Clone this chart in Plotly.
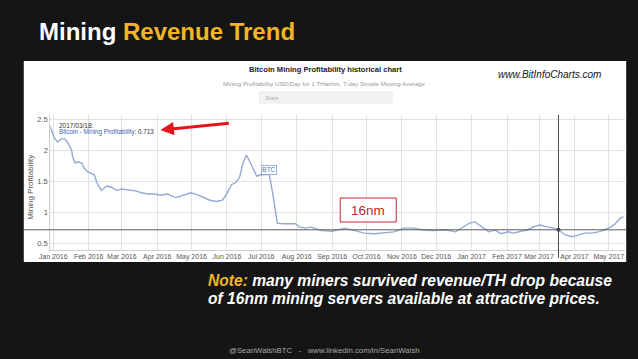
import plotly.graph_objects as go

W, H = 638, 359

# ---- data ----
dates = ["2015-12-29", "2015-12-31", "2016-01-02", "2016-01-05", "2016-01-08", "2016-01-11",
         "2016-01-14", "2016-01-17", "2016-01-18", "2016-01-20", "2016-01-22", "2016-01-26",
         "2016-01-28", "2016-01-31", "2016-02-03", "2016-02-06", "2016-02-08", "2016-02-12",
         "2016-02-14", "2016-02-17", "2016-02-21", "2016-02-25", "2016-03-01", "2016-03-07",
         "2016-03-13", "2016-03-18", "2016-03-24", "2016-03-30", "2016-04-04", "2016-04-10",
         "2016-04-16", "2016-04-19", "2016-04-25", "2016-04-30", "2016-05-06", "2016-05-12",
         "2016-05-17", "2016-05-23", "2016-05-28", "2016-06-01", "2016-06-05", "2016-06-09",
         "2016-06-12", "2016-06-15", "2016-06-18", "2016-06-21", "2016-06-24", "2016-06-27",
         "2016-07-01", "2016-07-05", "2016-07-08", "2016-07-11", "2016-07-15", "2016-07-20",
         "2016-07-25", "2016-07-31", "2016-08-03", "2016-08-09", "2016-08-13", "2016-08-17",
         "2016-08-23", "2016-09-01", "2016-09-12", "2016-09-21", "2016-09-29", "2016-10-08",
         "2016-10-16", "2016-10-25", "2016-11-03", "2016-11-11", "2016-11-20", "2016-11-28",
         "2016-12-10", "2016-12-18", "2016-12-24", "2016-12-30", "2017-01-04", "2017-01-10",
         "2017-01-16", "2017-01-21", "2017-01-27", "2017-02-02", "2017-02-07", "2017-02-13",
         "2017-02-19", "2017-02-24", "2017-03-02", "2017-03-08", "2017-03-14", "2017-03-18",
         "2017-03-24", "2017-03-30", "2017-04-05", "2017-04-10", "2017-04-16", "2017-04-22",
         "2017-04-27", "2017-05-03", "2017-05-06", "2017-05-11", "2017-05-14"]
profitability = [2.39, 2.27, 2.19, 2.13, 2.18, 2.18,
                 2.11, 2.00, 1.89, 1.79, 1.81, 1.79,
                 1.71, 1.65, 1.63, 1.60, 1.48, 1.35,
                 1.38, 1.42, 1.40, 1.35, 1.37, 1.35,
                 1.34, 1.31, 1.29, 1.29, 1.27, 1.29,
                 1.24, 1.24, 1.28, 1.31, 1.28, 1.23,
                 1.19, 1.17, 1.19, 1.30, 1.44, 1.48,
                 1.56, 1.79, 1.92, 1.81, 1.68, 1.58,
                 1.60, 1.61, 1.61, 1.30, 0.82, 0.81,
                 0.81, 0.81, 0.76, 0.74, 0.76, 0.74,
                 0.70, 0.69, 0.74, 0.70, 0.66, 0.65,
                 0.66, 0.68, 0.74, 0.74, 0.71, 0.70,
                 0.71, 0.68, 0.75, 0.82, 0.84, 0.76,
                 0.68, 0.71, 0.65, 0.68, 0.66, 0.69,
                 0.71, 0.76, 0.79, 0.76, 0.74, 0.713,
                 0.63, 0.60, 0.63, 0.66, 0.66, 0.68,
                 0.71, 0.76, 0.80, 0.90, 0.92]

hover_date = "2017-03-18"
hover_value = 0.713
x_ticks_start = "2016-01-01"
y_ticks = [0.5, 1, 1.5, 2, 2.5]
y_tick_labels = ["0.5", "1", "1.5", "2", "2.5"]

FONT = "Liberation Sans, Arial, sans-serif"


def px(x):
    return x / W


def py(y):
    return 1 - y / H


fig = go.Figure()
fig.add_trace(go.Scatter(x=dates, y=profitability, mode="lines",
                         line=dict(color="#93aad2", width=1.4), showlegend=False,
                         hoverinfo="skip"))
fig.add_trace(go.Scatter(x=[hover_date], y=[hover_value], mode="markers",
                         marker=dict(color="#2b3f66", size=4), showlegend=False,
                         hoverinfo="skip"))

shapes = [
    # white screenshot panel
    dict(type="rect", xref="paper", yref="paper", x0=px(13), x1=px(626), y0=py(262), y1=py(61),
         fillcolor="white", line=dict(width=0), layer="below"),
    # share bar
    dict(type="rect", xref="paper", yref="paper", x0=px(253), x1=px(388), y0=py(103), y1=py(92),
         fillcolor="#f3f3f3", line=dict(color="#e2e2e2", width=0.6), layer="below"),
    # crosshair horizontal
    dict(type="line", xref="paper", yref="y", x0=px(13), x1=px(626), y0=hover_value, y1=hover_value,
         line=dict(color="#5a5a5a", width=1)),
    # crosshair vertical
    dict(type="line", xref="x", yref="paper", x0=hover_date, x1=hover_date, y0=py(258), y1=py(115),
         line=dict(color="#4a4a4a", width=1)),
    # 16nm box
    dict(type="rect", xref="paper", yref="paper", x0=px(335), x1=px(392), y0=py(222), y1=py(198),
         fillcolor="white", line=dict(color="#c0282d", width=1)),
]

annotations = [
    dict(text="<b>Mining <span style='color:#F2B624'>Revenue Trend</span></b>",
         x=px(26), y=py(32), xanchor="left", yanchor="middle",
         font=dict(family=FONT, size=24, color="white")),
    dict(text="<b>Bitcoin Mining Profitability historical chart</b>",
         x=px(320), y=py(69), xanchor="center", yanchor="middle",
         font=dict(family=FONT, size=7.6, color="#222")),
    dict(text="Mining Profitability USD/Day for 1 THash/s, 7-day Simple Moving Average",
         x=px(319), y=py(83), xanchor="center", yanchor="middle",
         font=dict(family=FONT, size=6.2, color="#999")),
    dict(text="Share", x=px(256), y=py(97.5), xanchor="left", yanchor="middle",
         font=dict(family=FONT, size=5, color="#aaa")),
    dict(text="<i>www.BitInfoCharts.com</i>", x=px(493), y=py(75), xanchor="left", yanchor="middle",
         font=dict(family=FONT, size=10, color="#111")),
    dict(text="2017/03/18:", x=px(47), y=py(125), xanchor="left", yanchor="middle",
         font=dict(family=FONT, size=6.5, color="#333")),
    dict(text="<span style='color:#3d62b0'>Bitcoin - Mining Profitability</span>: 0.713",
         x=px(47), y=py(132), xanchor="left", yanchor="middle",
         font=dict(family=FONT, size=6.3, color="#333")),
    dict(text="Mining Profitability", x=px(19), y=py(187), textangle=-90,
         xanchor="center", yanchor="middle",
         font=dict(family=FONT, size=8, color="#555")),
    dict(text="BTC", x=px(263), y=py(170.5), xanchor="center", yanchor="middle",
         font=dict(family=FONT, size=6.5, color="#4a72bb"), bgcolor="white",
         bordercolor="#7f9fd6", borderwidth=0.8, borderpad=0.5),
    dict(text="16nm", x=px(363.5), y=py(210), xanchor="center", yanchor="middle",
         font=dict(family=FONT, size=13.5, color="#c0282d")),
    # red arrow
    dict(text="", x=px(152), y=py(130), ax=70, ay=-7, showarrow=True,
         arrowhead=2, arrowsize=0.9, arrowwidth=3, arrowcolor="#e3141b",
         xanchor="center", yanchor="middle"),
    dict(text="<b><i><span style='color:#F2B624'>Note:</span> many miners survived revenue/TH drop because</i></b>",
         x=px(198), y=py(280), xanchor="left", yanchor="middle",
         font=dict(family=FONT, size=15.6, color="white")),
    dict(text="<b><i>of 16nm mining servers available at attractive prices.</i></b>",
         x=px(198), y=py(298), xanchor="left", yanchor="middle",
         font=dict(family=FONT, size=15.6, color="white")),
    dict(text="@SeanWalshBTC   -   www.linkedin.com/in/SeanWalsh",
         x=px(319), y=py(350), xanchor="center", yanchor="middle",
         font=dict(family=FONT, size=7.8, color="#a8a8a8")),
]
for a in annotations:
    a.setdefault("xref", "paper")
    a.setdefault("yref", "paper")
    a.setdefault("showarrow", False)

fig.update_layout(
    width=W, height=H,
    margin=dict(l=0, r=0, t=0, b=0),
    paper_bgcolor="#151515",
    plot_bgcolor="white",
    showlegend=False,
    hovermode=False,
    shapes=shapes,
    annotations=annotations,
    xaxis=dict(domain=[px(40), px(625)],
               range=["2015-12-29 10:00", "2017-05-15 10:00"],
               tick0=x_ticks_start, dtick="M1", tickformat="%b %Y",
               showgrid=True, gridcolor="#e1e1e1", gridwidth=1,
               ticks="", showline=True, linecolor="#cfcfcf", linewidth=1,
               tickfont=dict(family=FONT, size=7, color="#555"),
               zeroline=False),
    yaxis=dict(domain=[py(250), py(115)],
               range=[0.387, 2.565],
               tickvals=y_ticks, ticktext=y_tick_labels,
               showgrid=True, gridcolor="#e1e1e1", gridwidth=1,
               ticks="", showline=True, linecolor="#cfcfcf", linewidth=1,
               tickfont=dict(family=FONT, size=7.5, color="#555"),
               zeroline=False),
)

fig.write_html("out.html",
               config={"displayModeBar": False},
               post_script="document.body.style.margin='0';document.body.style.background='#151515';")
